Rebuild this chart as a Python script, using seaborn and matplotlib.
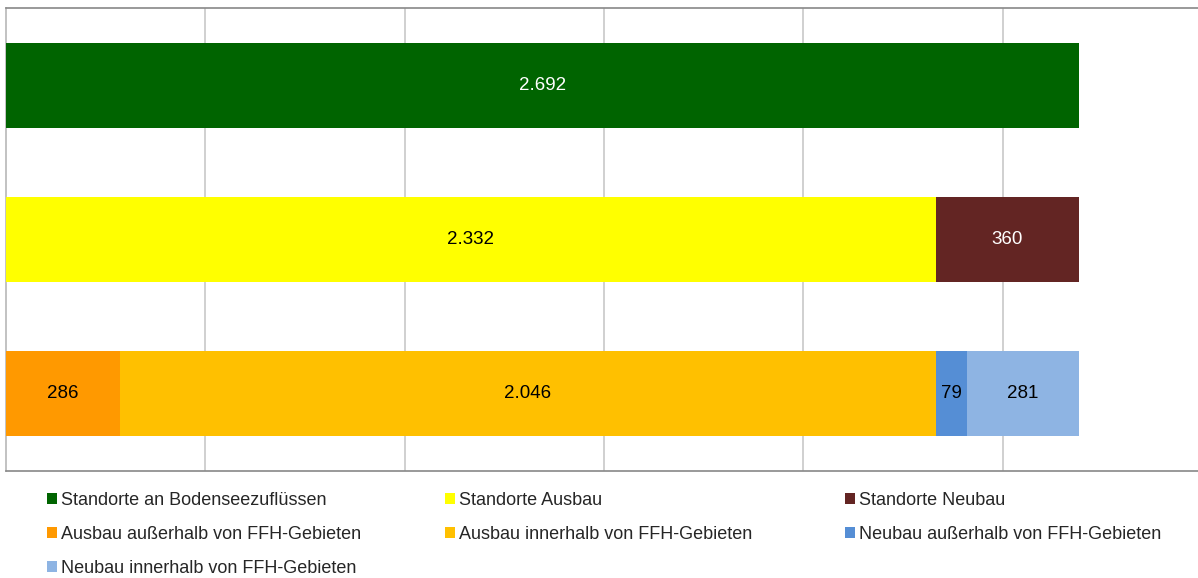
import matplotlib
matplotlib.use("Agg")
import matplotlib.pyplot as plt
from matplotlib.patches import Patch
import seaborn as sns
import pandas as pd

rows = ["Bodensee", "Ausbau/Neubau", "FFH"]
segments = [
    "Standorte an Bodenseezuflüssen",
    "Standorte Ausbau",
    "Standorte Neubau",
    "Ausbau außerhalb von FFH-Gebieten",
    "Ausbau innerhalb von FFH-Gebieten",
    "Neubau außerhalb von FFH-Gebieten",
    "Neubau innerhalb von FFH-Gebieten",
]
segment_row = [0, 1, 1, 2, 2, 2, 2]
values = [2692, 2332, 360, 286, 2046, 79, 281]
labels = ["2.692", "2.332", "360", "286", "2.046", "79", "281"]
colors = ["#006400", "#FFFF00", "#632523", "#FF9900", "#FFC000", "#558ED5", "#8EB4E3"]
text_colors = ["white", "black", "white", "black", "black", "black", "black"]

sns.set_theme(style="white")
plt.rcParams["font.family"] = ["Liberation Sans", "DejaVu Sans"]

fig = plt.figure(figsize=(11.98, 5.78), dpi=100)
ax = fig.add_axes([6 / 1198, 1 - 471 / 578, 1 - 6 / 1198, (471 - 8) / 578])

starts, ends = [], []
acc = {}
for r, v in zip(segment_row, values):
    s = acc.get(r, 0)
    starts.append(s)
    ends.append(s + v)
    acc[r] = s + v

df = pd.DataFrame({"row": [rows[r] for r in segment_row], "seg": segments,
                   "start": starts, "end": ends, "value": values})

for i in reversed(range(len(segments))):
    sub = df.iloc[[i]]
    sns.barplot(data=sub, x="end", y="row", order=rows, orient="h",
                color=colors[i], saturation=1, width=0.55, ax=ax,
                edgecolor="none", linewidth=0, zorder=3)

for i in range(len(segments)):
    cx = (starts[i] + ends[i]) / 2
    ax.text(cx, segment_row[i], labels[i], ha="center", va="center",
            fontsize=13.5, color=text_colors[i], zorder=5)

ax.set_xlim(0, 2990)
ax.set_ylim(2.5, -0.5)
ax.set_xticks([500, 1000, 1500, 2000, 2500])
ax.set_xticklabels([])
ax.set_yticks([])
ax.set_xlabel("")
ax.set_ylabel("")
ax.tick_params(length=0)
ax.grid(axis="x", color="#C8C8C8", linewidth=1.2, zorder=0)
ax.set_axisbelow(True)
for side in ["top", "bottom"]:
    ax.spines[side].set_color("#888888")
    ax.spines[side].set_linewidth(1.2)
ax.spines["left"].set_color("#B8B8B8")
ax.spines["left"].set_linewidth(1.2)
ax.spines["right"].set_visible(False)

columns = [[0, 3, 6], [1, 4], [2, 5]]
col_x = [47, 445, 845]
for col, x0 in zip(columns, col_x):
    handles = [Patch(facecolor=colors[i], edgecolor="none") for i in col]
    leg = fig.legend(handles, [segments[i] for i in col], loc="upper left",
                     bbox_to_anchor=(x0 / 1198, 1 - 492 / 578), frameon=False,
                     fontsize=13, handlelength=0.55, handleheight=0.55,
                     handletextpad=0.25, labelspacing=0.93,
                     borderaxespad=0, borderpad=0)

fig.savefig("out.png", dpi=100)
